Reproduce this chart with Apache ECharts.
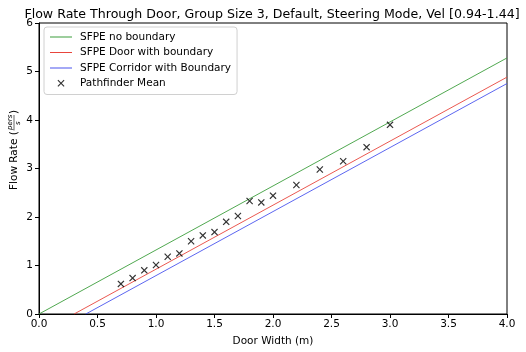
<!DOCTYPE html>
<html><head><meta charset="utf-8">
<script src="https://cdn.jsdelivr.net/npm/echarts@6/dist/echarts.min.js"></script>
<style>html,body{margin:0;padding:0;background:#fff}#c{width:526px;height:352px}</style>
</head><body><div id="c"></div>
<script>
const doorWidths = [0.7,0.8,0.9,1.0,1.1,1.2,1.3,1.4,1.5,1.6,1.7,1.8,1.9,2.0,2.2,2.4,2.6,2.8,3.0];
const pathfinderMean = [0.62,0.74,0.90,1.01,1.18,1.25,1.50,1.62,1.69,1.90,2.02,2.33,2.30,2.44,2.66,2.98,3.15,3.44,3.90];
const noBoundaryX = [0, 4];
const noBoundaryY = [0, 5.28];
const doorBoundaryX = [0.3, 4];
const doorBoundaryY = [0, 4.884];
const corridorBoundaryX = [0.4, 4];
const corridorBoundaryY = [0, 4.752];

const FONT = 'DejaVu Sans';
const zip = (a,b) => a.map((v,i)=>[v,b[i]]);
const xPath = 'path://M0,1.2 L1.2,0 L5,3.8 L8.8,0 L10,1.2 L6.2,5 L10,8.8 L8.8,10 L5,6.2 L1.2,10 L0,8.8 L3.8,5 Z';
const corners = ' M0,0 L0.001,0 L0,0.001 Z M22,12 L21.999,12 L22,11.999 Z';
const lineIcon = 'path://M0,5.6 L22,5.6 L22,6.5 L0,6.5 Z' + corners;
const xIcon = 'path://M7.5,3 L8.3,2.2 L11,4.9 L13.7,2.2 L14.5,3 L11.8,5.7 L14.5,8.4 L13.7,9.2 L11,6.5 L8.3,9.2 L7.5,8.4 L10.2,5.7 Z' + corners;

const chart = echarts.init(document.getElementById('c'), null, {renderer:'canvas'});
const lineSeries = (name, xs, ys, color) => ({
  name, type:'line', data: zip(xs, ys), symbol:'none', showSymbol:false,
  lineStyle:{color, width:0.9}, itemStyle:{color}, animation:false, z:2
});
chart.setOption({
  animation:false,
  backgroundColor:'#fff',
  textStyle:{fontFamily:FONT},
  title:{text:'Flow Rate Through Door, Group Size 3, Default, Steering Mode, Vel [0.94-1.44]',
    left:267, textAlign:'center', top:3,
    textStyle:{fontFamily:FONT, fontSize:12.6, fontWeight:'normal', color:'#000'}},
  grid:{left:39, right:19, top:23, bottom:37, show:true, borderColor:'#000', borderWidth:1, backgroundColor:'transparent'},
  legend:{orient:'vertical', left:44, top:27, padding:[4,6,5,6], itemGap:3.5,
    borderColor:'#d0d0d0', borderWidth:1, borderRadius:3, backgroundColor:'rgba(255,255,255,0.8)',
    itemWidth:22, itemHeight:12,
    textStyle:{fontFamily:FONT, fontSize:10.5, color:'#000', padding:[0,0,0,3]},
    data:[
      {name:'SFPE no boundary', icon:lineIcon},
      {name:'SFPE Door with boundary', icon:lineIcon},
      {name:'SFPE Corridor with Boundary', icon:lineIcon},
      {name:'Pathfinder Mean', icon:xIcon}
    ]},
  xAxis:{type:'value', min:0, max:4, interval:0.5,
    name:'Door Width (m)', nameLocation:'middle', nameGap:22,
    nameTextStyle:{fontFamily:FONT, fontSize:10.5, color:'#000'},
    axisLine:{show:true, lineStyle:{color:'#000', width:1}},
    axisTick:{show:true, inside:false, length:4, lineStyle:{color:'#000'}},
    axisLabel:{fontFamily:FONT, fontSize:10.5, color:'#000', margin:5, formatter:v=>v.toFixed(1)},
    splitLine:{show:false}},
  yAxis:{type:'value', min:0, max:6, interval:1,
    axisLine:{show:true, lineStyle:{color:'#000', width:1}},
    axisTick:{show:true, inside:false, length:4, lineStyle:{color:'#000'}},
    axisLabel:{fontFamily:FONT, fontSize:10.5, color:'#000', margin:6},
    splitLine:{show:false}},
  series:[
    lineSeries('SFPE no boundary', noBoundaryX, noBoundaryY, '#3c9e3c'),
    lineSeries('SFPE Door with boundary', doorBoundaryX, doorBoundaryY, '#e8453c'),
    lineSeries('SFPE Corridor with Boundary', corridorBoundaryX, corridorBoundaryY, '#4a55ee'),
    {name:'Pathfinder Mean', type:'scatter', data: zip(doorWidths, pathfinderMean),
     symbol:xPath, symbolSize:7, itemStyle:{color:'#000'}, z:3, animation:false}
  ],
  graphic:[{type:'group', x:14, y:190, rotation:Math.PI/2, children:[
    {type:'text', x:0, y:0, style:{text:'Flow Rate (', font:'10.5px "DejaVu Sans"', fill:'#000', textVerticalAlign:'middle'}},
    {type:'text', x:60, y:-4, style:{text:'pers', font:'italic 7px "DejaVu Sans"', fill:'#000', textVerticalAlign:'middle'}},
    {type:'line', shape:{x1:59.5, y1:0, x2:75, y2:0}, style:{stroke:'#000', lineWidth:0.6}},
    {type:'text', x:65, y:4.5, style:{text:'s', font:'italic 7px "DejaVu Sans"', fill:'#000', textVerticalAlign:'middle'}},
    {type:'text', x:76, y:0, style:{text:')', font:'10.5px "DejaVu Sans"', fill:'#000', textVerticalAlign:'middle'}}
  ]}]
});
</script></body></html>
